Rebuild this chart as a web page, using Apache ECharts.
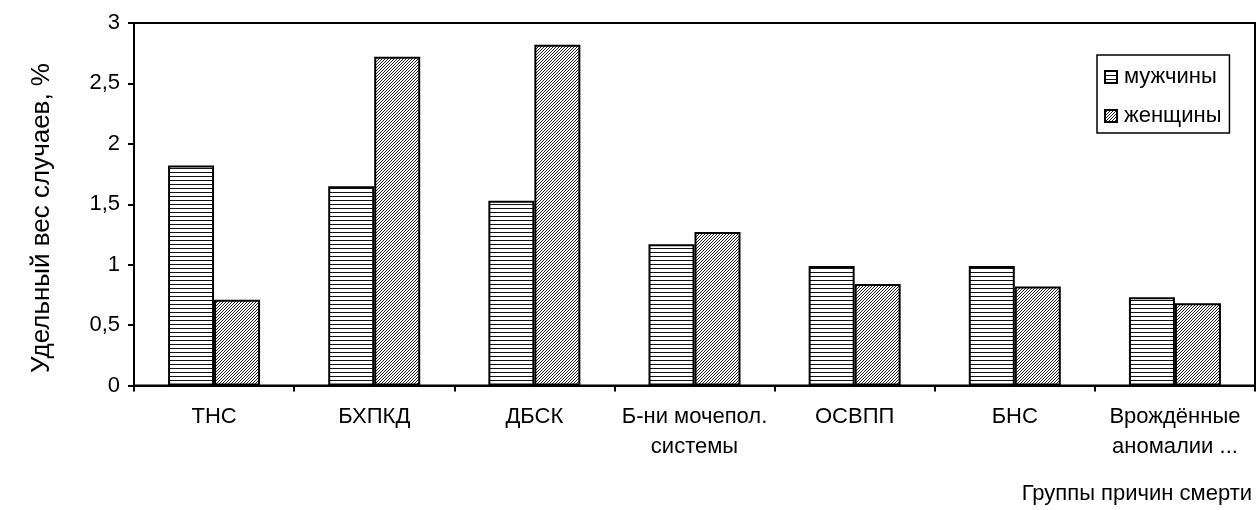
<!DOCTYPE html>
<html>
<head>
<meta charset="utf-8">
<script src="https://cdn.jsdelivr.net/npm/echarts@6/dist/echarts.min.js"></script>
<style>
  html, body { margin: 0; padding: 0; background: #fff; }
  #chart { width: 1257px; height: 510px; }
</style>
</head>
<body>
<div id="chart"></div>
<script>
// Groups of causes of death and share of cases (%) by sex
const categories = ['ТНС', 'БХПКД', 'ДБСК', 'Б-ни мочепол.\nсистемы', 'ОСВПП', 'БНС', 'Врождённые\nаномалии ...'];
const seriesNames = ['мужчины', 'женщины'];
const menValues = [1.82, 1.65, 1.53, 1.17, 0.99, 0.99, 0.73];
const womenValues = [0.71, 2.72, 2.82, 1.27, 0.84, 0.82, 0.68];
const yTicks = [0, 0.5, 1, 1.5, 2, 2.5, 3];

const FONT = 'Liberation Sans, Arial, sans-serif';
const FS = 22;
const FS_YNAME = 26;

// Horizontal line hatch
function hLines() {
  const c = document.createElement('canvas');
  c.width = 4; c.height = 4;
  const g = c.getContext('2d');
  g.fillStyle = '#fff'; g.fillRect(0, 0, 4, 4);
  g.fillStyle = '#111'; g.fillRect(0, 0, 4, 1);
  return c;
}
// Fine diagonal hatch
function diag() {
  const n = 3;
  const c = document.createElement('canvas');
  c.width = n; c.height = n;
  const g = c.getContext('2d');
  g.fillStyle = '#fff'; g.fillRect(0, 0, n, n);
  g.fillStyle = '#222';
  for (let i = 0; i < n; i++) g.fillRect(i, n - 1 - i, 1, 1);
  return c;
}
const menFill = { image: hLines(), repeat: 'repeat' };
const womenFill = { image: diag(), repeat: 'repeat' };

const chart = echarts.init(document.getElementById('chart'), null, { renderer: 'canvas' });
chart.setOption({
  animation: false,
  backgroundColor: '#fff',
  textStyle: { fontFamily: FONT },
  grid: {
    left: 134, right: 2, top: 23, bottom: 124.5,
    show: true, borderColor: '#000', borderWidth: 2, backgroundColor: 'transparent'
  },
  legend: {
    left: 1097, top: 55,
    orient: 'vertical',
    backgroundColor: '#fff',
    borderColor: '#000', borderWidth: 1.5,
    padding: [11, 8, 6, 7],
    itemGap: 17,
    itemWidth: 12, itemHeight: 12,
    icon: 'rect',
    textStyle: { fontSize: FS, color: '#000', fontFamily: FONT, padding: [0, 0, 0, 2] },
    data: seriesNames
  },
  graphic: [
    {
      type: 'text', x: 42, y: 218, rotation: Math.PI / 2,
      style: { text: 'Удельный вес случаев, %', font: FS_YNAME + 'px ' + FONT, fill: '#000', align: 'center', verticalAlign: 'middle' }
    },
    {
      type: 'text', right: 5, top: 483,
      style: { text: 'Группы причин смерти', font: FS + 'px ' + FONT, fill: '#000' }
    }
  ],
  xAxis: {
    type: 'category',
    data: categories,
    axisLine: { lineStyle: { color: '#000', width: 2 } },
    axisTick: { show: true, length: 6, lineStyle: { color: '#000', width: 2 } },
    axisLabel: { color: '#000', fontSize: FS, fontFamily: FONT, margin: 16, lineHeight: 30, interval: 0 }
  },
  yAxis: {
    type: 'value',
    min: 0, max: 3, interval: 0.5,
    splitLine: { show: false },
    axisLine: { show: true, lineStyle: { color: '#000', width: 2 } },
    axisTick: { show: true, length: 6, lineStyle: { color: '#000', width: 2 } },
    axisLabel: {
      color: '#000', fontSize: FS, fontFamily: FONT, margin: 14,
      formatter: v => yTicks.indexOf(v) >= 0 ? String(v).replace('.', ',') : ''
    }
  },
  series: [
    {
      name: seriesNames[0], type: 'bar', data: menValues,
      barWidth: 46, barGap: '0%',
      itemStyle: { color: menFill, borderColor: '#000', borderWidth: 2 }
    },
    {
      name: seriesNames[1], type: 'bar', data: womenValues,
      barWidth: 46, barGap: '0%',
      itemStyle: { color: womenFill, borderColor: '#000', borderWidth: 2 }
    }
  ]
});
</script>
</body>
</html>
